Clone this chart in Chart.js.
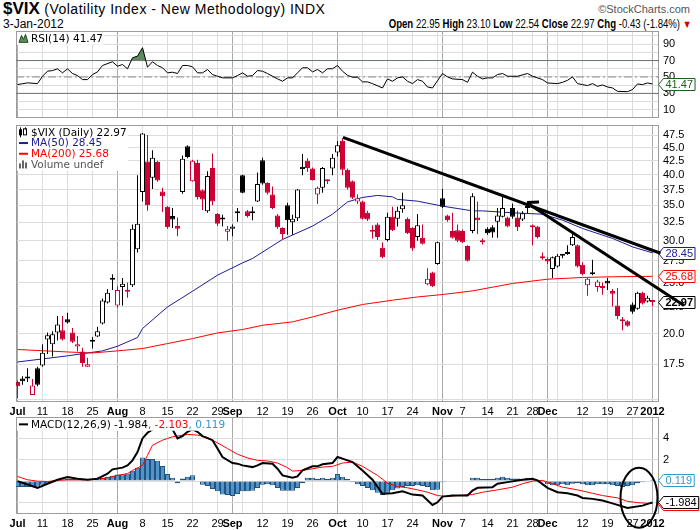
<!DOCTYPE html>
<html>
<head>
<meta charset="utf-8">
<title>$VIX</title>
<script src="https://cdn.jsdelivr.net/npm/chart.js@4.4.1/dist/chart.umd.min.js"></script>
<style>
  body { margin: 0; background: #fff; }
  #wrap { position: relative; width: 700px; height: 530px; overflow: hidden; font-family: "Liberation Sans", Arial, sans-serif; color: #000; }
  #wrap canvas { position: absolute; left: 0; }
  .hd { position: absolute; white-space: nowrap; }
</style>
</head>
<body>
<div id="wrap">
  <div class="hd" style="left:3px;top:0px;line-height:18px"><b style="font-size:17px">$VIX</b><span style="font-size:14px;letter-spacing:0.5px"> (Volatility Index - New Methodology) INDX</span></div>
  <div class="hd" style="right:10px;top:3px;font-size:11px;color:#555">&copy;StockCharts.com</div>
  <div class="hd" style="left:3px;top:17px;font-size:12px">3-Jan-2012</div>
  <div class="hd" id="quote" style="right:9px;top:17px;font-size:12px;transform:scaleX(0.8);transform-origin:right center"></div>
  <canvas id="rsiChart" width="700" height="87" style="top:31px"></canvas>
  <canvas id="priceChart" width="700" height="293" style="top:125px"></canvas>
  <canvas id="macdChart" width="700" height="113" style="top:417px"></canvas>
</div>
<script>
// trading day index: 0 = 1 Jul 2011 ... 127 = 3 Jan 2012
const tickDays   = [0, 5, 10, 15, 20, 25, 30, 35, 40, 43, 49, 54, 59, 64, 69, 74, 79, 85, 89, 94, 99, 103, 106, 113, 118, 123, 127];
const tickLabels = ['Jul', '11', '18', '25', 'Aug', '8', '15', '22', '29', 'Sep', '12', '19', '26', 'Oct', '10', '17', '24', 'Nov', '7', '14', '21', '28', 'Dec', '12', '19', '27', '2012'];
const quietDays  = [45, 84, 108];
const monthDays  = [0, 20, 43, 64, 85, 106, 127];

const priceTicks = [15, 17.5, 20, 22.5, 25, 27.5, 30, 32.5, 35, 37.5, 40, 42.5, 45, 47.5];
const rsiGrid    = [0, 10, 20, 30, 40, 50, 60, 70, 80, 90, 100];
const rsiLabels  = [10, 30, 50, 70, 90];
const rsiBands   = [30, 50, 70];
const macdGrid   = [-2, 0, 2, 4];
const macdLabels = [2, 4];

const closeBefore = 16.52;
const opens = [
  16.2, 16.45, 16.5, 15.3, 17.2, 17.4, 19.5, 19.1, 20.1, 20.3,
  21.3, 20.1, 18.9, 18.5, 17.3, 19.3, 19.75, 20.9, 22.9, 25.3,
  22.6, 24.5, 24.2, 24.7, 28.9, 37.1, 42.4, 39.5, 42.3, 37.2,
  34.8, 33.4, 32.0, 37.1, 45.3, 38.9, 42.1, 37.4, 34.1, 41.2,
  33.7, 33.2, 31.2, 31.6, 33.8, 39.9, 34.1, 33.8, 35.6, 42.6,
  38.6, 36.7, 33.5, 31.7, 35.0, 32.5, 33.1, 41.0, 42.5, 41.1,
  36.7, 37.8, 39.0, 41.1, 44.1, 46.4, 40.9, 38.9, 35.6, 35.6,
  33.9, 31.2, 32.2, 29.1, 30.1, 33.3, 33.0, 34.4, 33.0, 31.7,
  30.5, 30.4, 24.8, 26.1, 27.1, 36.1, 33.5, 31.3, 31.4, 31.3,
  29.3, 31.3, 33.2, 29.9, 31.6, 31.8, 32.6, 33.3, 33.2, 34.6,
  33.2, 32.9, 34.6, 31.8, 31.9, 27.9, 27.7, 26.5, 26.8, 28.1,
  28.3, 29.4, 29.4, 27.0, 24.7, 25.9, 24.5, 24.5, 25.2, 24.1,
  22.6, 21.2, 21.1, 22.7, 22.3, 23.9, 23.0, 22.95
];
const highs = [
  16.3, 16.6, 17.2, 16.4, 17.3, 19.1, 20.1, 20.2, 21.6, 21.6,
  21.9, 20.5, 19.8, 18.8, 18.0, 19.7, 20.6, 23.3, 24.3, 25.9,
  24.6, 25.5, 25.0, 32.2, 39.9, 48.0, 47.6, 44.5, 42.5, 37.8,
  34.9, 34.6, 33.2, 43.5, 45.5, 42.7, 42.7, 37.5, 40.6, 43.9,
  33.8, 33.6, 32.0, 32.2, 34.6, 40.0, 34.3, 34.8, 40.4, 43.1,
  38.7, 38.0, 33.7, 31.8, 35.4, 33.6, 37.6, 43.8, 43.0, 41.3,
  38.0, 41.4, 39.2, 43.8, 46.3, 46.9, 41.1, 39.0, 36.7, 35.7,
  34.2, 32.1, 32.4, 29.8, 33.9, 34.8, 34.8, 37.0, 33.2, 31.8,
  33.7, 32.2, 26.6, 26.2, 29.9, 37.6, 33.6, 33.9, 32.2, 31.5,
  29.4, 36.9, 35.6, 30.3, 31.8, 32.1, 34.6, 36.7, 33.3, 35.3,
  34.2, 34.1, 35.2, 32.2, 32.0, 28.5, 27.9, 28.0, 28.3, 28.3,
  29.4, 30.9, 29.5, 27.3, 25.5, 27.6, 25.3, 25.0, 25.5, 24.3,
  24.4, 21.5, 21.2, 22.9, 24.0, 24.0, 23.6, 23.10
];
const lows = [
  15.1, 16.0, 16.2, 15.3, 15.9, 17.3, 18.3, 18.1, 19.4, 19.4,
  20.9, 19.2, 18.5, 17.3, 17.3, 18.75, 19.7, 20.8, 22.8, 24.2,
  22.4, 22.6, 23.4, 24.5, 28.5, 35.6, 34.2, 37.6, 38.8, 34.0,
  31.6, 31.7, 30.6, 36.8, 43.0, 38.8, 35.9, 34.3, 33.9, 35.0,
  32.0, 31.9, 30.0, 30.6, 32.6, 36.9, 33.2, 32.8, 35.5, 38.3,
  36.7, 34.4, 31.6, 30.2, 30.8, 30.8, 32.7, 39.9, 40.5, 39.0,
  35.2, 37.0, 38.4, 39.9, 43.3, 39.9, 37.5, 36.0, 35.2, 32.9,
  32.7, 30.3, 30.1, 27.8, 29.9, 31.3, 31.9, 33.9, 30.9, 28.7,
  30.0, 29.5, 24.7, 24.5, 27.0, 34.6, 32.6, 30.3, 29.8, 29.7,
  27.4, 31.0, 30.9, 29.5, 30.8, 30.4, 30.4, 33.2, 31.8, 33.0,
  31.3, 32.7, 33.8, 29.4, 30.3, 27.6, 27.1, 25.5, 26.7, 27.8,
  28.2, 29.3, 26.7, 25.8, 23.6, 25.8, 24.0, 23.7, 24.2, 22.5,
  21.3, 20.3, 20.6, 21.8, 22.2, 22.7, 22.9, 22.54
];
const closes = [
  15.9, 16.25, 16.45, 15.95, 16.0, 18.4, 19.85, 19.95, 20.8, 19.5,
  21.0, 19.3, 19.1, 17.6, 17.5, 19.4, 20.2, 23.1, 23.9, 25.4,
  24.2, 24.85, 24.0, 31.6, 32.3, 47.9, 35.0, 43.1, 39.0, 36.4,
  31.8, 32.9, 31.6, 42.9, 43.2, 42.5, 36.3, 35.9, 39.8, 35.6,
  32.3, 32.9, 31.6, 31.9, 34.0, 37.0, 33.4, 34.1, 38.4, 38.5,
  37.0, 34.6, 31.8, 30.9, 32.8, 33.0, 37.5, 41.4, 41.2, 39.1,
  37.8, 41.2, 38.9, 43.1, 45.5, 40.9, 37.8, 36.2, 36.1, 33.0,
  32.9, 31.4, 30.5, 27.9, 33.3, 31.4, 34.2, 35.0, 31.0, 29.0,
  32.1, 29.6, 25.4, 24.6, 29.8, 34.8, 32.8, 30.4, 30.0, 29.8,
  27.5, 36.4, 32.8, 29.8, 31.0, 31.1, 33.5, 34.6, 31.9, 33.3,
  31.8, 33.8, 34.8, 32.1, 30.5, 27.8, 27.4, 27.9, 28.1, 28.2,
  28.4, 30.5, 26.8, 25.9, 25.4, 26.0, 25.1, 24.4, 24.9, 23.8,
  21.6, 21.1, 20.7, 22.0, 23.9, 22.8, 23.4, 22.97
];

const ma50Days  = [0, 10, 17, 20, 24, 25, 30, 35, 40, 45, 47, 53, 59, 63, 66, 69, 72, 75, 76, 80, 85, 91, 93, 99, 105, 109, 113, 119, 123, 127];
const ma50Vals  = [17.67, 18.15, 18.55, 18.93, 19.66, 20.45, 22.47, 24.06, 25.81, 27.23, 27.76, 30.16, 31.97, 33.68, 35.53, 36.23, 36.55, 36.33, 35.92, 35.65, 34.88, 34.17, 34.17, 33.88, 33.68, 32.81, 31.64, 30.30, 29.20, 28.45];
const ma200Days = [0, 10, 15, 20, 25, 30, 35, 40, 45, 49, 55, 59, 64, 69, 75, 80, 85, 91, 99, 106, 113, 119, 127];
const ma200Vals = [18.66, 18.46, 18.38, 18.55, 18.74, 19.15, 19.57, 20.06, 20.36, 20.74, 21.05, 21.51, 22.15, 22.71, 23.14, 23.47, 23.72, 24.10, 24.89, 25.36, 25.55, 25.63, 25.68];

// hand drawn trend lines: [day, value] pairs
const trendLines = [
  [[65.1, 47.1], [128.6, 28.4]],
  [[102.1, 35.3], [133.3, 22.6]],
  [[101.9, 35.45], [104.3, 35.5]]
];

const rsiDays = [0, 2, 4, 5, 6, 7, 8, 9, 10, 11, 12, 13, 14, 15, 16, 17, 19, 20, 21, 22, 23, 24, 25, 26, 27, 28, 29, 30, 31, 32, 33, 34, 35, 36, 37, 38, 39, 40, 41, 43, 44, 45, 46, 47, 48, 49, 50, 51, 52, 53, 54, 55, 56, 57, 58, 59, 60, 61, 62, 63, 64, 65, 66, 67, 68, 69, 70, 71, 73, 74, 75, 76, 77, 78, 79, 80, 81, 82, 83, 85, 86, 87, 89, 90, 91, 92, 93, 94, 95, 96, 97, 98, 100, 102, 103, 105, 106, 108, 109, 110, 111, 112, 113, 114, 115, 116, 117, 118, 119, 120, 122, 123, 124, 125, 126, 127];
const rsiVals = [40.7, 42.8, 41.9, 50.9, 57.0, 57.8, 59.9, 55.0, 59.9, 54.2, 51.7, 46.8, 46.8, 52.9, 56.2, 64.0, 68.5, 63.1, 65.2, 59.9, 73.4, 75.4, 85.7, 61.9, 68.5, 64.0, 61.2, 55.0, 55.8, 54.2, 64.0, 64.0, 62.4, 55.0, 55.0, 59.1, 52.9, 50.9, 48.9, 48.9, 51.7, 55.0, 50.9, 51.7, 57.8, 57.0, 54.2, 50.9, 47.7, 44.8, 48.9, 48.9, 55.0, 61.2, 61.2, 56.2, 59.1, 55.0, 60.0, 60.0, 64.0, 57.0, 52.0, 49.7, 49.7, 44.0, 44.0, 41.9, 36.6, 47.6, 44.8, 48.9, 50.1, 44.8, 41.9, 46.8, 44.8, 37.8, 36.6, 54.2, 50.1, 47.6, 46.8, 43.5, 55.8, 50.9, 47.6, 48.9, 48.9, 52.9, 54.2, 50.9, 50.9, 54.2, 50.9, 46.8, 42.7, 41.9, 43.5, 45.9, 50.1, 41.9, 40.7, 39.5, 41.9, 38.6, 40.3, 37.8, 36.6, 32.5, 32.1, 34.6, 41.5, 40.7, 42.7, 41.47];

const macdDays = [0, 2, 4, 6, 8, 10, 12, 14, 16, 18, 19, 21, 22, 23, 24, 25, 26, 27, 28, 29, 30, 31, 32, 33, 34, 35, 36, 37, 39, 40, 41, 43, 44, 45, 47, 48, 49, 51, 52, 53, 55, 56, 57, 59, 60, 61, 63, 64, 65, 67, 69, 71, 73, 75, 77, 79, 81, 83, 84, 85, 87, 90, 91, 92, 95, 96, 98, 101, 103, 104, 106, 108, 110, 112, 113, 115, 117, 119, 122, 125, 127];
const macdVals = [-0.01, -0.32, -0.63, -0.25, 0.12, 0.37, 0.22, 0.12, 0.22, 0.68, 1.09, 1.25, 1.46, 1.93, 2.71, 3.97, 4.5, 4.82, 5.22, 5.5, 5.3, 4.82, 3.97, 4.19, 4.59, 4.82, 4.59, 4.19, 3.81, 3.03, 2.24, 1.68, 1.62, 1.46, 1.30, 1.46, 1.68, 1.62, 1.15, 0.53, 0.31, 0.43, 0.99, 1.37, 1.37, 1.56, 1.68, 2.24, 2.09, 1.77, 0.99, 0.12, -1.19, -1.14, -0.95, -1.26, -1.35, -2.23, -1.98, -1.45, -1.35, -1.35, -0.88, -0.63, -0.57, -0.25, -0.10, 0.12, 0.22, 0.06, -0.63, -1.04, -1.14, -1.35, -1.57, -1.66, -1.82, -2.08, -2.51, -2.29, -1.984];
const signalDays = [0, 2, 4, 6, 8, 10, 14, 16, 18, 20, 22, 23, 25, 26, 27, 29, 30, 31, 34, 36, 38, 40, 42, 44, 46, 48, 50, 52, 54, 55, 57, 59, 61, 63, 65, 67, 69, 72, 74, 76, 78, 80, 82, 84, 86, 88, 91, 93, 96, 99, 101, 103, 105, 107, 109, 112, 115, 117, 120, 122, 124, 127];
const signalVals = [0.43, 0.12, -0.01, -0.04, 0.06, 0.12, 0.12, 0.15, 0.31, 0.53, 0.69, 0.99, 1.46, 2.40, 3.34, 3.81, 3.97, 4.12, 4.35, 4.28, 4.07, 3.56, 3.03, 2.50, 2.15, 1.93, 1.87, 1.68, 1.25, 0.93, 0.99, 1.15, 1.30, 1.37, 1.68, 1.77, 1.37, 0.53, -0.20, -0.51, -0.63, -0.82, -1.04, -1.35, -1.45, -1.35, -1.26, -1.04, -0.82, -0.57, -0.25, -0.01, 0.06, -0.25, -0.57, -0.82, -1.14, -1.35, -1.57, -1.89, -2.01, -2.103];
const histVals = [
  -0.55, -0.55, -0.55, -0.55, -0.5, -0.35, -0.25, -0.1, 0.05, 0.15,
  0.25, 0.2, 0.15, 0.1, 0.05, 0.0, 0.1, 0.3, 0.4, 0.5,
  0.6, 0.6, 0.7, 0.95, 1.25, 2.2, 2.05, 2.05, 1.9, 1.4,
  0.65, 0.3, -0.2, 0.25, 0.4, 0.55, 0.05, -0.35, -0.45, -0.75,
  -0.95, -1.25, -1.3, -1.4, -1.2, -0.95, -0.95, -0.9, -0.65, -0.35,
  -0.3, -0.4, -0.65, -0.9, -0.9, -0.9, -0.65, -0.2, 0.3, 0.3,
  0.2, 0.3, 0.2, 0.3, 0.65, 0.4, 0.2, -0.1, -0.3, -0.45,
  -0.65, -0.85, -1.1, -1.3, -1.1, -0.85, -0.7, -0.55, -0.45, -0.45,
  -0.4, -0.45, -0.55, -0.85, -0.8, -0.1, 0.0, 0.05, 0.05, 0.05,
  -0.05, 0.3, 0.3, 0.2, 0.2, 0.2, 0.3, 0.4, 0.3, 0.25,
  0.25, 0.2, 0.3, 0.2, 0.0, -0.1, -0.3, -0.4, -0.4, -0.3,
  -0.4, -0.25, -0.2, -0.3, -0.4, -0.4, -0.3, -0.3, -0.3, -0.4,
  -0.45, -0.55, -0.45, -0.4, -0.2, -0.1, 0.0, 0.119
];

// circle drawn around the last days of the MACD panel
const ring = { day: 124.3, value: -1.55, halfDays: 3.7, halfValue: 2.8 };

const dayMin = -0.3, dayMax = 128.3;
const RED = '#cc0033', NAVY = '#1c1c94', MACD_BLUE = '#3399cc';
const TICK_FONT = '"Liberation Sans", Arial, sans-serif';
const LEGEND_FONT = '10.5px "DejaVu Sans", Verdana, sans-serif';

Chart.defaults.font.family = TICK_FONT;
Chart.defaults.color = '#000';

const last = closes.length - 1;
const chg = closes[last] - closes[last - 1];
document.getElementById('quote').innerHTML =
  '<b>Open</b> ' + opens[last].toFixed(2) + ' <b>High</b> ' + highs[last].toFixed(2) +
  ' <b>Low</b> ' + lows[last].toFixed(2) + ' <b>Close</b> ' + closes[last].toFixed(2) +
  ' <b>Chg</b> ' + chg.toFixed(2) + ' (' + (chg / closes[last - 1] * 100).toFixed(2) + '%) <span style="color:#c00;font-size:11px">&#9660;</span>';

const pts = (days, vals) => days.map((d, k) => ({ x: d, y: vals[k] }));
const allDays = closes.map((c, i) => i);
const candleColor = allDays.map(i => closes[i] >= (i ? closes[i - 1] : closeBefore) ? '#000' : RED);

function xAxis(showLabels) {
  const lines = tickDays.concat(quietDays).sort((a, b) => a - b);
  const isMonth = c => c.tick && monthDays.includes(c.tick.value);
  return {
    type: 'linear', min: dayMin, max: dayMax, offset: false,
    afterBuildTicks: ax => { ax.ticks = lines.map(v => ({ value: v })); },
    afterFit: ax => { ax.height = showLabels ? 16 : 0; ax.paddingLeft = 0; ax.paddingRight = 0; },
    grid: { offset: false, drawTicks: false, color: c => isMonth(c) ? '#a9a9a9' : '#dcdcdc' },
    border: { display: false },
    ticks: {
      display: showLabels, autoSkip: false, maxRotation: 0, padding: 3, color: '#000',
      callback: v => { const k = tickDays.indexOf(v); return k < 0 ? '' : tickLabels[k]; },
      font: c => ({ family: TICK_FONT, size: 11, weight: isMonth(c) ? 'bold' : 'normal' })
    }
  };
}

function yAxis(extra, grid, labels) {
  return Object.assign({
    position: 'right',
    afterBuildTicks: ax => { ax.ticks = grid.map(v => ({ value: v })); },
    afterFit: ax => { ax.width = 41; ax.paddingTop = 0; ax.paddingBottom = 0; },
    grid: { drawTicks: false, color: '#dcdcdc' },
    border: { display: false },
    ticks: { autoSkip: false, padding: 4, color: '#000', font: { size: 11 }, callback: v => labels(v) }
  }, extra);
}

function drawTag(ctx, x, y, t) {
  ctx.font = (t.bold ? 'bold ' : '') + '11px ' + TICK_FONT;
  const w = ctx.measureText(t.text).width + 4;
  y = Math.round(y) + 0.5;
  ctx.beginPath();
  ctx.moveTo(x - 0.5, y);
  ctx.lineTo(x + 4.5, y - 6);
  ctx.lineTo(x + 4.5 + w, y - 6);
  ctx.lineTo(x + 4.5 + w, y + 6);
  ctx.lineTo(x + 4.5, y + 6);
  ctx.closePath();
  ctx.fillStyle = '#fff';
  ctx.fill();
  ctx.strokeStyle = t.color;
  ctx.lineWidth = 1;
  ctx.stroke();
  ctx.fillStyle = t.color;
  ctx.textAlign = 'left';
  ctx.textBaseline = 'middle';
  ctx.fillText(t.text, x + 6.5, y + 0.5);
}

function drawIcon(ctx, icon, x, cy) {
  ctx.save();
  if (icon.kind === 'dash') {
    ctx.strokeStyle = icon.color;
    ctx.lineWidth = 2;
    ctx.beginPath(); ctx.moveTo(x + 1, cy); ctx.lineTo(x + 10, cy); ctx.stroke();
  } else if (icon.kind === 'candle') {
    ctx.fillStyle = '#000';
    ctx.fillRect(x + 1, cy - 3, 3, 6); ctx.fillRect(x + 2, cy - 5, 1, 10);
    ctx.strokeStyle = '#000'; ctx.lineWidth = 1;
    ctx.strokeRect(x + 5.5, cy - 3.5, 3, 6); ctx.fillRect(x + 7, cy - 5, 1, 2);
  } else if (icon.kind === 'bars') {
    ctx.fillStyle = '#666';
    ctx.fillRect(x + 1, cy - 1, 2, 5); ctx.fillRect(x + 4, cy - 4, 2, 8); ctx.fillRect(x + 7, cy - 2, 2, 6);
  } else if (icon.kind === 'mount') {
    ctx.fillStyle = '#5e8c5e'; ctx.strokeStyle = '#1e4d1e'; ctx.lineWidth = 1;
    ctx.beginPath();
    ctx.moveTo(x + 1, cy + 4); ctx.lineTo(x + 3.5, cy - 3); ctx.lineTo(x + 5.5, cy + 1);
    ctx.lineTo(x + 7.5, cy - 4); ctx.lineTo(x + 10, cy + 4); ctx.closePath();
    ctx.fill(); ctx.stroke();
  }
  ctx.restore();
}

function drawLegend(ctx, x, y, rows) {
  const rowH = 10.7;
  ctx.font = LEGEND_FONT;
  const widths = rows.map(r => r.parts.reduce((s, p) => s + ctx.measureText(p[0]).width, 0));
  ctx.fillStyle = '#fff';
  ctx.fillRect(x, y, 15 + Math.max(...widths), rows.length * rowH + 2);
  rows.forEach((r, k) => {
    const cy = y + 1 + rowH * k + rowH / 2;
    drawIcon(ctx, r.icon, x + 1, cy);
    let tx = x + 14;
    ctx.textAlign = 'left';
    ctx.textBaseline = 'middle';
    r.parts.forEach(p => {
      ctx.fillStyle = p[1];
      ctx.fillText(p[0], tx, cy + 0.5);
      tx += ctx.measureText(p[0]).width;
    });
  });
}

function decor(opts) {
  return {
    id: 'decor',
    beforeDatasetsDraw(chart) {
      const { ctx, chartArea: a } = chart;
      ctx.save();
      ctx.strokeStyle = '#9c9c9c';
      ctx.lineWidth = 1;
      ctx.strokeRect(a.left + 0.5, a.top + 0.5, a.width - 1, a.height - 1);
      opts.tags.forEach(t => drawTag(ctx, a.right, chart.scales.y.getPixelForValue(t.value), t));
      ctx.restore();
    },
    afterDatasetsDraw(chart) {
      const { ctx, chartArea: a } = chart;
      ctx.save();
      drawLegend(ctx, a.left + 1, a.top + 1, opts.legend);
      ctx.restore();
    },
    afterDraw(chart) {
      if (opts.after) opts.after(chart);
    }
  };
}

const common = {
  responsive: false, animation: false, events: [], devicePixelRatio: 1,
  layout: { padding: { left: 16, right: 0, top: 0, bottom: 0 } },
  plugins: { legend: { display: false }, tooltip: { enabled: false } }
};

// RSI panel
new Chart(document.getElementById('rsiChart'), {
  type: 'line',
  data: {
    datasets: [{
      data: pts(rsiDays, rsiVals), borderColor: '#000', borderWidth: 1, pointRadius: 0, tension: 0,
      fill: { target: { value: 70 }, above: '#5e8c5e', below: 'rgba(0,0,0,0)' }, order: 0
    }].concat(rsiBands.map(b => ({
      data: [{ x: dayMin, y: b }, { x: dayMax, y: b }],
      borderColor: b === 50 ? '#8c8c8c' : '#707070', borderWidth: 1,
      borderDash: b === 50 ? [8, 3, 2, 3] : [], pointRadius: 0, fill: false, order: 1
    })))
  },
  options: Object.assign({}, common, {
    scales: {
      x: xAxis(false),
      y: yAxis({ type: 'linear', min: 0, max: 106 }, rsiGrid, v => rsiLabels.includes(v) ? String(v) : '')
    }
  }),
  plugins: [decor({
    tags: [{ value: rsiVals[rsiVals.length - 1], text: rsiVals[rsiVals.length - 1].toFixed(2), color: '#1e5e1e' }],
    legend: [{ icon: { kind: 'mount' }, parts: [['RSI(14) ' + rsiVals[rsiVals.length - 1].toFixed(2), '#000']] }]
  })]
});

// price panel
new Chart(document.getElementById('priceChart'), {
  type: 'bar',
  data: {
    datasets: [
      {
        type: 'bar', data: allDays.map(i => ({ x: i, y: [lows[i], highs[i]] })),
        backgroundColor: candleColor, barThickness: 1, grouped: false, inflateAmount: 0, order: 6
      },
      {
        type: 'bar', data: allDays.map(i => ({ x: i, y: [opens[i], closes[i]] })),
        backgroundColor: allDays.map(i => closes[i] > opens[i] ? '#fff' : candleColor[i]),
        borderColor: candleColor, borderWidth: 1, borderSkipped: false,
        barThickness: 5, minBarLength: 2, grouped: false, inflateAmount: 0, order: 5
      },
      { type: 'line', data: pts(ma200Days, ma200Vals), borderColor: '#ff0000', borderWidth: 1, pointRadius: 0, order: 7 },
      { type: 'line', data: pts(ma50Days, ma50Vals), borderColor: NAVY, borderWidth: 1, pointRadius: 0, order: 7 }
    ].concat(trendLines.map(tl => ({
      type: 'line', data: tl.map(p => ({ x: p[0], y: p[1] })), borderColor: '#000', borderWidth: 3,
      pointRadius: 0, clip: false, order: 1
    })))
  },
  options: Object.assign({}, common, {
    scales: {
      x: xAxis(true),
      y: yAxis({ type: 'logarithmic', min: 14.84, max: 49.7 }, priceTicks, v => v === 15 ? '' : v.toFixed(1))
    }
  }),
  plugins: [decor({
    tags: [
      { value: ma50Vals[ma50Vals.length - 1], text: ma50Vals[ma50Vals.length - 1].toFixed(2), color: NAVY },
      { value: ma200Vals[ma200Vals.length - 1], text: ma200Vals[ma200Vals.length - 1].toFixed(2), color: '#ff0000' },
      { value: closes[last], text: closes[last].toFixed(2), color: '#000', bold: true }
    ],
    legend: [
      { icon: { kind: 'candle' }, parts: [['$VIX (Daily) ' + closes[last].toFixed(2), '#000']] },
      { icon: { kind: 'dash', color: NAVY }, parts: [['MA(50) ' + ma50Vals[ma50Vals.length - 1].toFixed(2), NAVY]] },
      { icon: { kind: 'dash', color: '#ff0000' }, parts: [['MA(200) ' + ma200Vals[ma200Vals.length - 1].toFixed(2), '#ff0000']] },
      { icon: { kind: 'bars' }, parts: [['Volume undef', '#555']] }
    ]
  })]
});

// MACD panel
const lastMacd = macdVals[macdVals.length - 1], lastSignal = signalVals[signalVals.length - 1], lastHist = histVals[histVals.length - 1];
new Chart(document.getElementById('macdChart'), {
  type: 'bar',
  data: {
    datasets: [
      {
        type: 'bar', data: allDays.map(i => ({ x: i, y: histVals[i] })),
        backgroundColor: '#4f95cc', borderColor: '#24537f', borderWidth: 1, borderSkipped: false,
        barThickness: 5, grouped: false, inflateAmount: 0, order: 5
      },
      { type: 'line', data: pts(signalDays, signalVals), borderColor: '#ff0000', borderWidth: 1, pointRadius: 0, order: 2 },
      { type: 'line', data: pts(macdDays, macdVals), borderColor: '#000', borderWidth: 2, pointRadius: 0, order: 1 }
    ]
  },
  options: Object.assign({}, common, {
    scales: {
      x: xAxis(true),
      y: yAxis({ type: 'linear', min: -3.07, max: 5.97 }, macdGrid, v => macdLabels.includes(v) ? String(v) : '')
    }
  }),
  plugins: [decor({
    tags: [
      { value: lastHist, text: lastHist.toFixed(3), color: MACD_BLUE },
      { value: lastSignal, text: lastSignal.toFixed(3), color: '#ff0000' },
      { value: lastMacd, text: lastMacd.toFixed(3), color: '#000' }
    ],
    legend: [{
      icon: { kind: 'dash', color: '#000' },
      parts: [['MACD(12,26,9) ' + lastMacd.toFixed(3), '#000'], [', ' + lastSignal.toFixed(3), '#ff0000'], [', ' + lastHist.toFixed(3), MACD_BLUE]]
    }],
    after: chart => {
      const xs = chart.scales.x, ys = chart.scales.y, ctx = chart.ctx;
      const cx = xs.getPixelForValue(ring.day), cy = ys.getPixelForValue(ring.value);
      const rx = xs.getPixelForValue(ring.day + ring.halfDays) - cx;
      const ry = ys.getPixelForValue(ring.value - ring.halfValue) - cy;
      ctx.save();
      ctx.strokeStyle = '#000';
      ctx.lineWidth = 2;
      ctx.beginPath();
      ctx.ellipse(cx, cy, rx, Math.abs(ry), 0, 0, Math.PI * 2);
      ctx.stroke();
      ctx.restore();
    }
  })]
});
</script>
</body>
</html>
